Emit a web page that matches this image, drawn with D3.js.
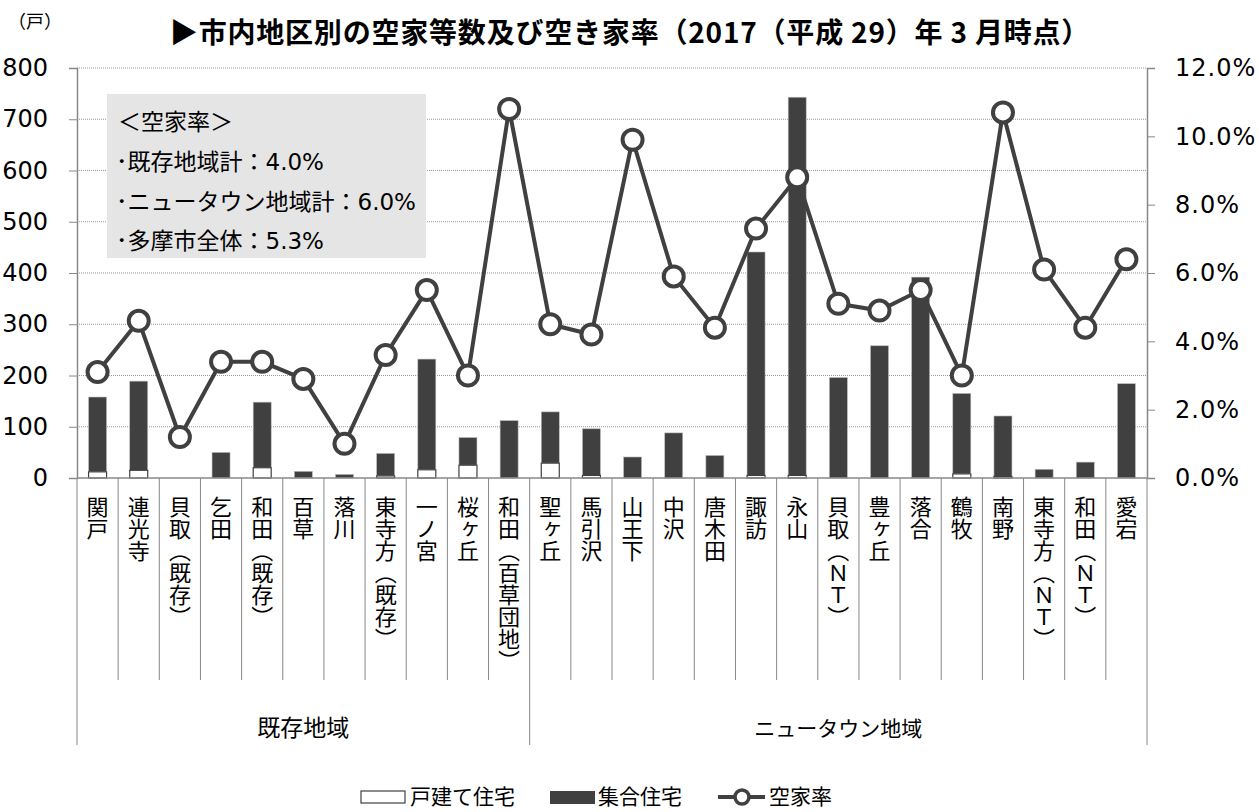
<!DOCTYPE html>
<html>
<head>
<meta charset="utf-8">
<script src="https://cdn.jsdelivr.net/npm/d3@7"></script>
<style>
  body { margin: 0; background: #fff; }
  text { font-family: "DejaVu Sans", "Noto Sans CJK JP", sans-serif; fill: #000; }
  .cjk { font-family: "Noto Sans CJK JP", sans-serif; }
</style>
</head>
<body>
<div id="chart"></div>
<script>
// district names, group for each, and values
var districts = ["関戸", "連光寺", "貝取（既存）", "乞田", "和田（既存）", "百草", "落川", "東寺方（既存）", "一ノ宮", "桜ヶ丘", "和田（百草団地）",
  "聖ヶ丘", "馬引沢", "山王下", "中沢", "唐木田", "諏訪", "永山", "貝取（ＮＴ）", "豊ヶ丘", "落合", "鶴牧", "南野", "東寺方（ＮＴ）", "和田（ＮＴ）", "愛宕"];
var groups = ["既存地域", "ニュータウン地域"];
var groupSizes = [11, 15];
var detached = [12, 15, 0, 0, 20, 0, 0, 4, 16, 25, 0,
  29, 5, 0, 0, 0, 5, 5, 0, 0, 0, 8, 3, 0, 0, 0];
var apartment = [146, 174, 0, 50, 128, 13, 7, 44, 216, 54, 112,
  100, 91, 41, 88, 44, 436, 738, 196, 258, 392, 157, 118, 17, 31, 184];
var vacancyRate = [3.1, 4.6, 1.2, 3.4, 3.4, 2.9, 1.0, 3.6, 5.5, 3.0, 10.8,
  4.5, 4.2, 9.9, 5.9, 4.4, 7.3, 8.8, 5.1, 4.9, 5.5, 3.0, 10.7, 6.1, 4.4, 6.4];
var leftTicks = [0, 100, 200, 300, 400, 500, 600, 700, 800];
var rightTicks = [0, 2, 4, 6, 8, 10, 12];
var noteLines = ["＜空家率＞", "･既存地域計：4.0%", "･ニュータウン地域計：6.0%", "･多摩市全体：5.3%"];

var W = 1259, H = 812;
var margin = {top: 68, bottom: 334, left: 77, right: 112},
  width = W - margin.left - margin.right,
  height = H - margin.top - margin.bottom;

var svg = d3.select("#chart").append("svg")
  .attr("width", W).attr("height", H);

// title and unit
svg.append("text").attr("class", "cjk")
  .attr("x", 630).attr("y", 43).attr("text-anchor", "middle")
  .style("font-size", "28px").style("font-weight", "bold").style("letter-spacing", "0.8px")
  .text("▶市内地区別の空家等数及び空き家率（2017（平成 29）年 3 月時点）");
svg.append("text").attr("class", "cjk")
  .attr("x", 8).attr("y", 28).style("font-size", "18px").text("（戸）");

var g = svg.append("g")
  .attr("transform", "translate(" + margin.left + "," + margin.top + ")");

var x = d3.scaleBand().domain(districts).range([0, width]);
var y = d3.scaleLinear().domain([0, 800]).range([height, 0]);
var y2 = d3.scaleLinear().domain([0, 12]).range([height, 0]);

// dotted gridlines
g.selectAll(".grid").data(leftTicks.slice(1)).enter().append("line")
  .attr("x1", 0).attr("x2", width)
  .attr("y1", d => y(d)).attr("y2", d => y(d))
  .attr("stroke", "#999").attr("stroke-dasharray", "1,1");

// left axis
var yAxis = d3.axisLeft(y).tickValues(leftTicks).tickSizeOuter(0).tickSize(8).tickPadding(21);
var ya = g.append("g").call(yAxis);
ya.select(".domain").attr("stroke", "#888").attr("stroke-width", 1.5);
ya.selectAll(".tick line").attr("stroke", "#888");
ya.selectAll("text").style("font-size", "24px").style("font-family", "'DejaVu Sans', sans-serif");

// right axis
var yAxis2 = d3.axisRight(y2).tickValues(rightTicks).tickSizeOuter(0).tickSize(8).tickPadding(20)
  .tickFormat(d => d.toFixed(1) + "%");
var ya2 = g.append("g").attr("transform", "translate(" + width + ",0)").call(yAxis2);
ya2.select(".domain").attr("stroke", "#888").attr("stroke-width", 1.5);
ya2.selectAll(".tick line").attr("stroke", "#888");
ya2.selectAll("text").style("font-size", "24px").style("letter-spacing", "1px")
  .style("font-family", "'DejaVu Sans', sans-serif");

// bars: detached (white) at bottom, apartment (dark) stacked
var bw = 18;
g.selectAll(".apt").data(districts).enter().append("rect")
  .attr("x", d => x(d) + x.bandwidth() / 2 - bw / 2)
  .attr("y", (d, i) => y(detached[i] + apartment[i]))
  .attr("width", bw)
  .attr("height", (d, i) => y(detached[i]) - y(detached[i] + apartment[i]))
  .attr("fill", "#404040").attr("stroke", "#bbb").attr("stroke-width", 0.6);
g.selectAll(".det").data(districts).enter().append("rect")
  .attr("x", d => x(d) + x.bandwidth() / 2 - bw / 2)
  .attr("y", (d, i) => y(detached[i]))
  .attr("width", bw)
  .attr("height", (d, i) => height - y(detached[i]))
  .attr("fill", "#fff").attr("stroke", "#404040").attr("stroke-width", 1.2)
  .style("display", (d, i) => detached[i] > 0 ? null : "none");

// bottom axis line
g.append("line").attr("x1", 0).attr("x2", width).attr("y1", height).attr("y2", height)
  .attr("stroke", "#888").attr("stroke-width", 1.5);

// category separators
var bounds = [];
districts.forEach(d => bounds.push(x(d)));
bounds.push(width);
var groupEdges = [0, groupSizes[0], districts.length];
g.selectAll(".sep").data(bounds).enter().append("line")
  .attr("x1", d => d).attr("x2", d => d)
  .attr("y1", height)
  .attr("y2", (d, i) => groupEdges.indexOf(i) >= 0 ? height + 267 : height + 202)
  .attr("stroke", "#888");

// vertical category labels
g.selectAll(".cat").data(districts).enter().append("text")
  .attr("class", "cjk")
  .attr("transform", d => "translate(" + (x(d) + x.bandwidth() / 2) + "," + (height + 18) + ")")
  .style("writing-mode", "vertical-rl").style("font-size", "22px")
  .style("text-orientation", "upright")
  .text(d => d);

// group labels
var start = 0;
groups.forEach(function(gName, k) {
  var a = x(districts[start]), b = x(districts[start + groupSizes[k] - 1]) + x.bandwidth();
  g.append("text").attr("class", "cjk")
    .attr("x", (a + b) / 2).attr("y", height + 258).attr("text-anchor", "middle")
    .style("font-size", k === 0 ? "23px" : "21px").text(gName);
  start += groupSizes[k];
});

// vacancy rate line
var line = d3.line()
  .x((d, i) => x(districts[i]) + x.bandwidth() / 2)
  .y(d => y2(d));
g.append("path").datum(vacancyRate).attr("d", line)
  .attr("fill", "none").attr("stroke", "#404040").attr("stroke-width", 4);
g.selectAll(".pt").data(vacancyRate).enter().append("circle")
  .attr("cx", (d, i) => x(districts[i]) + x.bandwidth() / 2)
  .attr("cy", d => y2(d)).attr("r", 10)
  .attr("fill", "#fff").attr("stroke", "#404040").attr("stroke-width", 4);

// note box
svg.append("rect").attr("x", 107).attr("y", 94).attr("width", 319).attr("height", 164)
  .attr("fill", "#e5e5e5");
noteLines.forEach(function(t, i) {
  svg.append("text").attr("class", i === 0 ? "cjk" : null)
    .attr("x", i === 0 ? 118 : 116).attr("y", [130, 170, 210, 249][i])
    .style("font-size", "23px").text(t);
});

// legend
var lg = svg.append("g").attr("transform", "translate(0,797)");
lg.append("rect").attr("x", 361).attr("y", -6).attr("width", 44).attr("height", 12)
  .attr("fill", "#fff").attr("stroke", "#404040").attr("stroke-width", 1.2);
lg.append("text").attr("class", "cjk").attr("x", 410).attr("y", 7).style("font-size", "21px").text("戸建て住宅");
lg.append("rect").attr("x", 550).attr("y", -6).attr("width", 45).attr("height", 13).attr("fill", "#404040");
lg.append("text").attr("class", "cjk").attr("x", 598).attr("y", 7).style("font-size", "21px").text("集合住宅");
lg.append("line").attr("x1", 718).attr("x2", 765).attr("y1", 0).attr("y2", 0)
  .attr("stroke", "#404040").attr("stroke-width", 4);
lg.append("circle").attr("cx", 742).attr("cy", 0).attr("r", 7)
  .attr("fill", "#fff").attr("stroke", "#404040").attr("stroke-width", 3.5);
lg.append("text").attr("class", "cjk").attr("x", 769).attr("y", 7).style("font-size", "21px").text("空家率");
</script>
</body>
</html>
